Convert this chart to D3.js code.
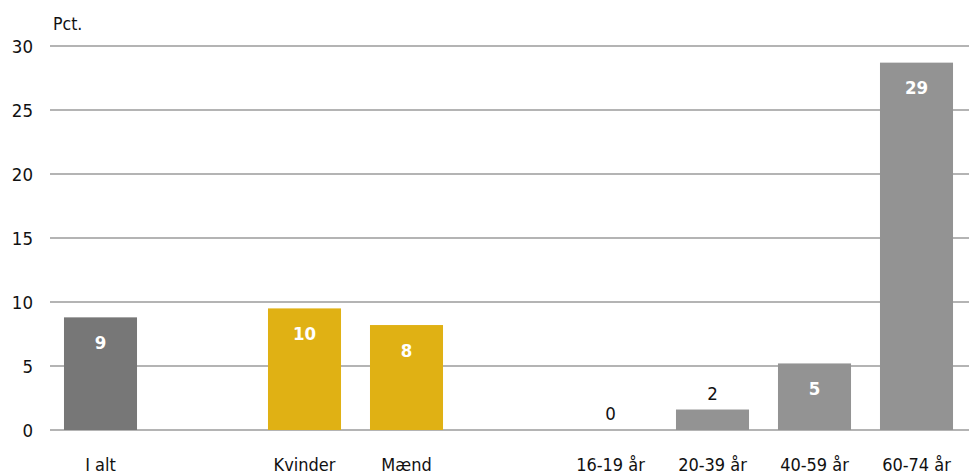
<!DOCTYPE html>
<html>
<head>
<meta charset="utf-8">
<script src="https://cdn.jsdelivr.net/npm/d3@7"></script>
<style>
    body { margin: 0; background: #fff; }
    svg text { font-family: "Liberation Sans Narrow", "DejaVu Sans Condensed", "Open Sans", sans-serif; }
</style>
</head>
<body>
<div id="chart-container"></div>
<script>
// --- data ---
const categories = ["I alt", "_gap1", "Kvinder", "Mænd", "_gap2", "16-19 år", "20-39 år", "40-59 år", "60-74 år"];
const values = [8.8, null, 9.5, 8.2, null, 0, 1.6, 5.2, 28.7];
const groups = ["total", null, "gender", "gender", null, "age", "age", "age", "age"];
const yTicks = [0, 5, 10, 15, 20, 25, 30];

const W = 969, H = 475;
const colors = { total: "#777777", gender: "#e0b114", age: "#939393" };

const data = categories.map((c, i) => ({ cat: c, value: values[i], group: groups[i] }));

const svg = d3.select("#chart-container").append("svg")
    .attr("width", W).attr("height", H);

const x = d3.scaleBand()
    .domain(categories)
    .range([49.5, 967.5])
    .paddingInner(0.284)
    .paddingOuter(0.142);

const y = d3.scaleLinear().domain([0, 30]).range([430, 46]);

// gridlines
svg.append("g").selectAll("line")
    .data(yTicks)
    .enter().append("line")
    .attr("x1", 50).attr("x2", W)
    .attr("y1", d => y(d)).attr("y2", d => y(d))
    .attr("stroke", "#b4b4b4").attr("stroke-width", 2);

// y axis labels
const yAxis = d3.axisLeft(y).tickValues(yTicks).tickSize(0).tickPadding(0);
svg.append("g")
    .attr("transform", "translate(33,0)")
    .call(yAxis)
    .call(g => g.select(".domain").remove())
    .call(g => g.selectAll("text")
        .attr("font-size", 18.5).attr("fill", "#111").attr("dy", "0.35em")
        .style("font-family", null));

svg.append("text")
    .attr("x", 53).attr("y", 30)
    .attr("font-size", 17.5).attr("fill", "#111")
    .text("Pct.");

// bars
const bars = data.filter(d => d.value !== null);
svg.append("g").selectAll("rect")
    .data(bars)
    .enter().append("rect")
    .attr("x", d => x(d.cat))
    .attr("width", x.bandwidth())
    .attr("y", d => y(d.value))
    .attr("height", d => y(0) - y(d.value))
    .attr("fill", d => colors[d.group]);

// value labels
svg.append("g").selectAll("text")
    .data(bars)
    .enter().append("text")
    .attr("x", d => x(d.cat) + x.bandwidth() / 2)
    .attr("y", d => d.value < 3 ? y(d.value) - 16 : y(d.value) + 25)
    .attr("dy", "0.35em")
    .attr("text-anchor", "middle")
    .attr("font-size", 18.5)
    .attr("font-weight", d => d.value < 3 ? "normal" : "bold")
    .attr("fill", d => d.value < 3 ? "#111" : "#fff")
    .text(d => Math.round(d.value));

// x axis labels
const xAxis = d3.axisBottom(x).tickSize(0).tickPadding(0)
    .tickFormat(d => d.startsWith("_") ? "" : d);
svg.append("g")
    .attr("transform", "translate(0,458)")
    .call(xAxis)
    .call(g => g.select(".domain").remove())
    .call(g => g.selectAll("text")
        .attr("font-size", 18).attr("fill", "#111").attr("dy", "0.71em")
        .style("font-family", null));
</script>
</body>
</html>
